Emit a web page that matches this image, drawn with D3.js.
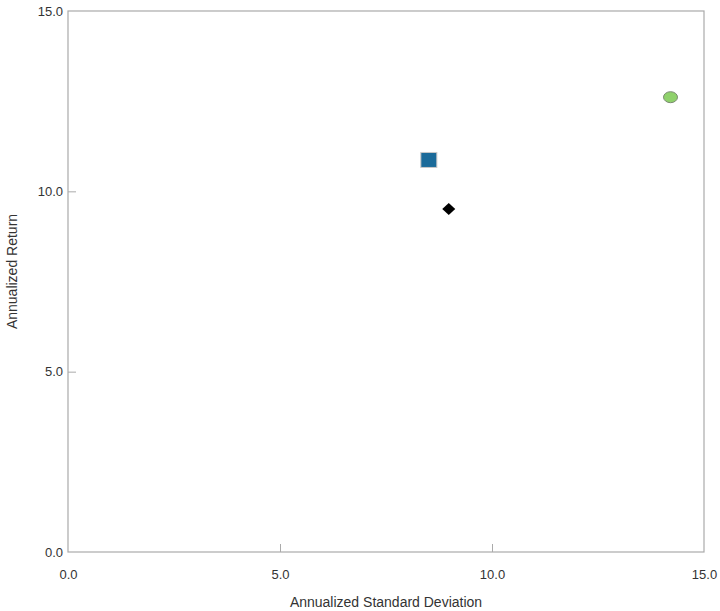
<!DOCTYPE html>
<html>
<head>
<meta charset="utf-8">
<script src="https://d3js.org/d3.v7.min.js"></script>
<style>
  body { margin: 0; background: #fff; }
  text { font-family: "Liberation Sans", Arial, sans-serif; }
</style>
</head>
<body>
<div id="chart"></div>
<script>
// data
const names = ["Portfolio", "Benchmark", "Asset"];
const stdDev = [8.51, 8.98, 14.21];
const returns = [10.87, 9.51, 12.61];
const shapes = ["square", "diamond", "circle"];
const xTicks = [0, 5, 10, 15];
const yTicks = [0, 5, 10, 15];

const W = 720, H = 611;
const margin = { top: 11, right: 16, bottom: 59, left: 68 };
const width = W - margin.left - margin.right;
const height = H - margin.top - margin.bottom;

const svg = d3.select("#chart").append("svg")
    .attr("width", W).attr("height", H);
const g = svg.append("g").attr("transform", `translate(${margin.left},${margin.top})`);

const x = d3.scaleLinear().domain([0, 15]).range([0, width]);
const y = d3.scaleLinear().domain([0, 15]).range([height, 0]);

// frame
g.append("rect")
    .attr("width", width).attr("height", height)
    .attr("fill", "none").attr("stroke", "#aaa").attr("stroke-width", 1.2);

// axes with inward ticks
const xAxis = g.append("g").attr("transform", `translate(0,${height})`)
    .call(d3.axisBottom(x).tickValues(xTicks).tickFormat(d3.format(".1f")).tickSize(-8).tickPadding(18));
const yAxis = g.append("g")
    .call(d3.axisLeft(y).tickValues(yTicks).tickFormat(d3.format(".1f")).tickSize(-8).tickPadding(5));
[xAxis, yAxis].forEach(a => {
    a.select(".domain").remove();
    a.selectAll(".tick line").attr("stroke", "#aaa");
    a.selectAll(".tick text").attr("fill", "#333").style("font-size", "13px")
        .style("font-family", "'Liberation Sans', Arial, sans-serif");
});
// remove tick marks at corners (frame covers them)
xAxis.selectAll(".tick").filter(d => d === 0 || d === 15).select("line").remove();
yAxis.selectAll(".tick").filter(d => d === 0 || d === 15).select("line").remove();

// axis titles
svg.append("text")
    .attr("x", margin.left + width / 2).attr("y", H - 4)
    .attr("text-anchor", "middle").attr("fill", "#333")
    .style("font-size", "14px")
    .text("Annualized Standard Deviation");
svg.append("text")
    .attr("transform", `translate(17,${margin.top + height / 2 - 10}) rotate(-90)`)
    .attr("text-anchor", "middle").attr("fill", "#333")
    .style("font-size", "14px")
    .text("Annualized Return");

// points
const pts = names.map((n, i) => ({ name: n, sd: stdDev[i], ret: returns[i], shape: shapes[i] }));
pts.forEach(d => {
    const cx = x(d.sd), cy = y(d.ret);
    if (d.shape === "square") {
        g.append("rect")
            .attr("x", cx - 8).attr("y", cy - 7.5).attr("width", 16).attr("height", 15)
            .attr("fill", "#1b6b9a").attr("stroke", "#c8c8c8").attr("stroke-width", 1);
    } else if (d.shape === "diamond") {
        g.append("path")
            .attr("d", `M${cx},${cy - 6}L${cx + 6.5},${cy}L${cx},${cy + 6}L${cx - 6.5},${cy}Z`)
            .attr("fill", "#000");
    } else {
        g.append("ellipse")
            .attr("cx", cx).attr("cy", cy).attr("rx", 7).attr("ry", 5.5)
            .attr("fill", "#8fd16b").attr("stroke", "#7a8a70").attr("stroke-width", 1);
    }
});
</script>
</body>
</html>
